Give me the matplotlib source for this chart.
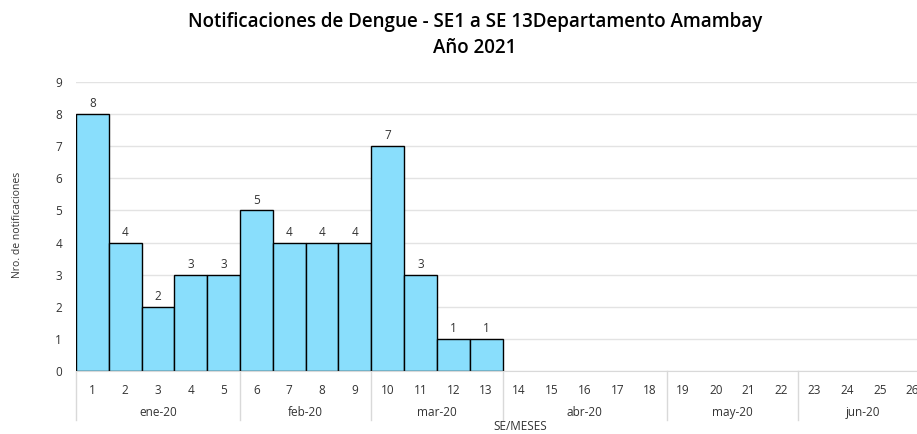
import matplotlib.pyplot as plt
import matplotlib.transforms as mtransforms

plt.rcParams['font.family'] = ['Open Sans', 'DejaVu Sans']

# Semanas epidemiologicas y casos
weeks = list(range(1, 27))
cases = [8, 4, 2, 3, 3, 5, 4, 4, 4, 7, 3, 1, 1]
months = ['ene-20', 'feb-20', 'mar-20', 'abr-20', 'may-20', 'jun-20']
month_weeks = [5, 4, 4, 5, 4, 4]  # semanas por mes

W, H = 917, 434
fig = plt.figure(figsize=(W / 100, H / 100), dpi=100)
ax = fig.add_axes([76 / W, (H - 371) / H, (929 - 76) / W, (371 - 82) / H])

bars = ax.bar(weeks[:len(cases)], cases, width=1.0, color='#89DEFC',
              edgecolor='black', linewidth=1.0, zorder=3)
for b, v in zip(bars, cases):
    ax.text(b.get_x() + b.get_width() / 2, v + 0.12, str(v), ha='center',
            va='bottom', fontsize=8.5, color='#333333')

ax.set_xlim(0.5, 26.5)
ax.set_ylim(0, 9)
ax.set_yticks(range(0, 10))
ax.grid(axis='y', color='#e3e3e3', linewidth=1, zorder=0)
ax.tick_params(axis='y', length=0, labelsize=8.5, pad=10, labelcolor='#333333')
for s in ['top', 'right', 'left']:
    ax.spines[s].set_visible(False)
ax.spines['bottom'].set_color('#d9d9d9')
ax.spines['bottom'].set_zorder(4)

ax.set_xticks(weeks)
ax.set_xticklabels([str(w) for w in weeks])
ax.tick_params(axis='x', length=0, labelsize=8.5, pad=9, labelcolor='#333333')

# Grupos de meses
trans = mtransforms.blended_transform_factory(ax.transData, ax.transAxes)
start = 0.5
ax.plot([start, start], [0, -0.17], color='#d9d9d9', lw=1,
        transform=trans, clip_on=False)
for m, n in zip(months, month_weeks):
    end = start + n
    ax.text((start + end) / 2, -0.145, m, transform=trans, ha='center',
            va='center', fontsize=8.5, color='#333333')
    ax.plot([end, end], [0, -0.17], color='#d9d9d9', lw=1,
            transform=trans, clip_on=False)
    start = end

fig.text(520 / W, 1 - 427 / H, 'SE/MESES', ha='center', va='center',
         fontsize=8.5, color='#333333')
fig.text(18 / W, 1 - 225 / H, 'Nro. de notificaciones', rotation=90,
         ha='center', va='center', fontsize=7.5, color='#333333')

fig.suptitle('Notificaciones de Dengue - SE1 a SE 13Departamento Amambay\nAño 2021',
             x=475 / W, y=1 - 12 / H, va='top', fontsize=13.5, fontweight='semibold',
             linespacing=1.4)

fig.savefig('out.png', dpi=100)
